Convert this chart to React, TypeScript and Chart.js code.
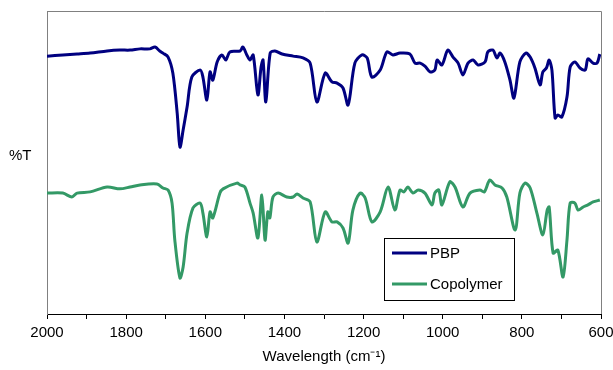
import React, { useEffect, useRef } from "react";
import { Chart, registerables } from "chart.js";

Chart.register(...registerables);

const pbpWavenumbers = [
  2000, 1960, 1924, 1891, 1848, 1816, 1790, 1765, 1740, 1727, 1715, 1707, 1694, 1682, 1671, 1664, 1656, 1646, 1634,
  1613, 1606, 1596, 1588, 1581, 1570, 1558, 1548, 1538, 1512, 1505, 1495, 1487, 1479, 1467, 1459, 1454, 1447, 1436,
  1424, 1406, 1378, 1353, 1335, 1318, 1297, 1280, 1267, 1252, 1239, 1222, 1204, 1191, 1179, 1158, 1141, 1126, 1108,
  1083, 1070, 1057, 1045, 1032, 1020, 1014, 1002, 987, 974, 961, 949, 936, 923, 911, 893, 886, 873, 863, 855, 843,
  830, 820, 805, 790, 779, 767, 754, 747, 738, 731, 724, 716, 709, 699, 686, 678, 666, 653, 640, 633, 620, 610, 603,
];
const pbpT = [
  85.1, 85.5, 85.8, 86.1, 86.8, 87.1, 87.1, 87.5, 87.5, 88.1, 86.8, 86.1, 84.8, 79.5, 66.3, 55.1, 60.7, 68.3, 78.2,
  80.5, 78.2, 70.6, 79.9, 77.2, 83.2, 85.5, 83.8, 86.5, 86.8, 88.1, 85.5, 83.8, 85.5, 72.3, 81.5, 83.8, 70.0, 86.1,
  86.8, 85.8, 85.1, 84.5, 82.8, 70.0, 79.5, 76.6, 76.2, 74.6, 69.0, 82.8, 85.5, 84.5, 78.2, 80.5, 86.5, 85.5, 86.1,
  85.8, 82.8, 82.8, 81.8, 79.9, 80.5, 83.8, 82.2, 87.1, 84.8, 82.8, 78.9, 82.8, 83.8, 82.2, 83.2, 86.5, 87.1, 84.5,
  86.1, 83.2, 77.2, 71.3, 83.2, 86.1, 84.8, 81.2, 75.6, 79.9, 81.2, 83.8, 80.5, 64.7, 65.7, 65.0, 71.6, 81.5, 83.2,
  81.2, 80.5, 84.2, 82.8, 82.8, 85.8,
];

const copolymerWavenumbers = [
  2000, 1960, 1937, 1924, 1891, 1848, 1816, 1790, 1765, 1722, 1707, 1694, 1684, 1677, 1664, 1656, 1646, 1631, 1613,
  1606, 1596, 1588, 1581, 1563, 1555, 1520, 1512, 1500, 1487, 1479, 1467, 1457, 1449, 1442, 1437, 1429, 1416, 1394,
  1378, 1368, 1353, 1335, 1318, 1297, 1280, 1267, 1252, 1239, 1227, 1209, 1196, 1179, 1158, 1138, 1121, 1108, 1098,
  1088, 1075, 1062, 1045, 1027, 1020, 1010, 1002, 982, 969, 949, 931, 906, 895, 881, 868, 850, 838, 817, 805, 792,
  779, 762, 747, 736, 731, 721, 709, 696, 686, 678, 666, 658, 645, 633, 620, 603,
];
const copolymerT = [
  39.9, 39.9, 38.6, 39.9, 40.3, 41.9, 41.3, 41.9, 42.6, 42.9, 41.6, 40.9, 36.6, 24.4, 11.9, 15.5, 26.7, 35.0, 36.6,
  33.3, 25.4, 33.7, 31.7, 39.9, 41.3, 43.2, 42.6, 41.9, 36.6, 33.3, 25.1, 39.3, 24.4, 33.7, 31.7, 38.6, 39.9, 38.6,
  38.6, 39.6, 38.3, 37.0, 23.8, 33.7, 30.4, 30.4, 28.4, 23.4, 34.3, 39.9, 38.3, 30.4, 33.7, 41.9, 34.3, 40.9, 40.3,
  41.9, 39.9, 40.9, 39.9, 36.0, 39.9, 40.9, 36.0, 43.6, 41.9, 35.3, 39.9, 40.9, 40.3, 44.2, 42.6, 41.6, 38.6, 27.7,
  39.9, 43.2, 41.6, 33.3, 26.1, 34.3, 35.3, 20.1, 21.1, 12.2, 24.4, 36.6, 36.6, 34.3, 35.3, 36.0, 37.0, 37.6,
];

const seriesLabels = ["PBP", "Copolymer"];
const seriesColors = ["#000080", "#339966"];
const xTitle = "Wavelength (cm\u207B\u00B9)";
const yTitle = "%T";

const FONT = '"Liberation Sans", Arial, sans-serif';

const overlayPlugin = {
  id: "overlay",
  beforeDatasetsDraw(chart: any) {
    const { ctx, chartArea: a } = chart;
    ctx.save();
    ctx.strokeStyle = "#808080";
    ctx.lineWidth = 1;
    ctx.beginPath();
    ctx.moveTo(a.left, Math.round(a.top) + 0.5);
    ctx.lineTo(Math.round(a.right) + 0.5, Math.round(a.top) + 0.5);
    ctx.lineTo(Math.round(a.right) + 0.5, a.bottom);
    ctx.stroke();
    ctx.restore();
  },
  afterDraw(chart: any) {
    const { ctx, chartArea: a } = chart;
    ctx.save();
    ctx.fillStyle = "#000";
    ctx.font = `15px ${FONT}`;
    ctx.textBaseline = "middle";
    ctx.textAlign = "left";
    ctx.fillText(yTitle, 9, 156);
    ctx.textAlign = "center";
    ctx.fillText(xTitle, (a.left + a.right) / 2, 357);

    // legend
    const bx = 384.5, by = 238.5, bw = 130, bh = 62;
    ctx.fillStyle = "#fff";
    ctx.fillRect(bx, by, bw, bh);
    ctx.strokeStyle = "#000";
    ctx.lineWidth = 1;
    ctx.strokeRect(bx, by, bw, bh);
    const rows = [253, 284];
    chart.data.datasets.forEach((ds: any, i: number) => {
      const y = rows[i];
      ctx.strokeStyle = ds.borderColor;
      ctx.lineWidth = 3;
      ctx.beginPath();
      ctx.moveTo(392, y);
      ctx.lineTo(427, y);
      ctx.stroke();
      ctx.fillStyle = "#000";
      ctx.textAlign = "left";
      ctx.fillText(ds.label, 430, y + 1);
    });
    ctx.restore();
  },
};

export default function App() {
  const canvasRef = useRef<HTMLCanvasElement | null>(null);

  useEffect(() => {
    document.body.style.margin = "0";
    const canvas = canvasRef.current;
    if (!canvas) return;
    const datasets = [
      { xs: pbpWavenumbers, ys: pbpT },
      { xs: copolymerWavenumbers, ys: copolymerT },
    ].map((s, i) => ({
      label: seriesLabels[i],
      data: s.xs.map((x, j) => ({ x, y: s.ys[j] })),
      borderColor: seriesColors[i],
      backgroundColor: seriesColors[i],
      borderWidth: 3,
      pointRadius: 0,
      tension: 0.3,
      fill: false,
    }));

    const chart = new Chart(canvas, {
      type: "line",
      data: { datasets },
      options: {
        animation: false,
        responsive: false,
        layout: { padding: { left: 0, right: 12, top: 11, bottom: 0 } },
        plugins: { legend: { display: false }, tooltip: { enabled: false } },
        scales: {
          x: {
            type: "linear",
            reverse: true,
            min: 600,
            max: 2000,
            afterFit: (s: any) => {
              s.height = 56;
              s.paddingLeft = 0;
              s.paddingRight = 0;
            },
            ticks: {
              stepSize: 100,
              autoSkip: false,
              maxRotation: 0,
              padding: 5,
              color: "#000",
              font: { family: FONT, size: 15 },
              callback: (v: any) => (Number(v) % 200 === 0 ? String(v) : ""),
            },
            grid: { display: true, drawOnChartArea: false, drawTicks: true, tickLength: 5, color: "#000" },
            border: { color: "#000", width: 1 },
          },
          y: {
            min: 0,
            max: 100,
            afterFit: (s: any) => {
              s.width = 47;
            },
            ticks: { display: false },
            grid: { display: false },
            border: { color: "#808080", width: 1 },
          },
        },
      },
      plugins: [overlayPlugin],
    } as any);
    return () => chart.destroy();
  }, []);

  return <canvas ref={canvasRef} width={613} height={370} style={{ display: "block" }} />;
}
